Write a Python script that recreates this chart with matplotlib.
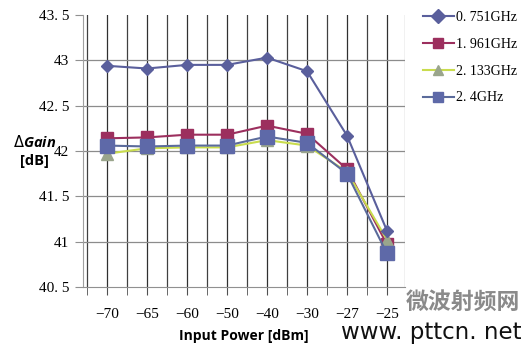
import matplotlib.pyplot as plt

# Input power steps (categorical axis) and gain per frequency
power_labels = ['-70', '-65', '-60', '-50', '-40', '-30', '-27', '-25']
gain_0751 = [42.94, 42.91, 42.95, 42.95, 43.03, 42.88, 42.17, 41.12]
gain_1961 = [42.14, 42.15, 42.18, 42.18, 42.28, 42.19, 41.80, 40.97]
gain_2133 = [41.97, 42.03, 42.04, 42.04, 42.12, 42.06, 41.77, 41.02]
gain_2400 = [42.06, 42.05, 42.06, 42.06, 42.16, 42.09, 41.75, 40.87]
series_names = ['0. 751GHz', '1. 961GHz', '2. 133GHz', '2. 4GHz']

serif = ['Liberation Serif', 'DejaVu Serif']

fig = plt.figure(figsize=(5.23, 3.46), dpi=100)
ax = fig.add_axes([0.1587, 0.1705, 0.6157, 0.7861])

x = list(range(len(power_labels)))

# gridlines: dark at categories and between them, light horizontals
for i in x:
    ax.axvline(i, color='#303030', lw=0.9, zorder=1)
for i in range(-1, len(power_labels) - 1):
    ax.axvline(i + 0.5, color='#404040', lw=0.9, zorder=1)
ax.axvline(7.45, color='#909090', lw=0.9, zorder=1)
for yv in [41, 41.5, 42, 42.5, 43]:
    ax.axhline(yv, color='#8c8c8c', lw=0.9, zorder=1)

ax.plot(x, gain_0751, color='#5a5f9c', lw=1.5, marker='D', ms=6.5,
        mfc='#5a5f9c', mec='#5a5f9c', label=series_names[0], zorder=5)
ax.plot(x, gain_1961, color='#9c2f5e', lw=1.5, marker='s', ms=9,
        mfc='#9c2f5e', mec='#9c2f5e', label=series_names[1], zorder=3)
ax.plot(x, gain_2133, color='#c9dc4e', lw=1.5, marker='^', ms=9,
        mfc='#9aa58c', mec='#9aa58c', label=series_names[2], zorder=3)
ax.plot(x, gain_2400, color='#5b6b9b', lw=1.5, marker='s', ms=10,
        mfc='#5e69a8', mec='#5e69a8', label=series_names[3], zorder=4)

ax.set_xlim(-0.6, 7.45)
ax.set_ylim(40.5, 43.5)
ax.set_yticks([40.5, 41, 41.5, 42, 42.5, 43, 43.5])
ax.set_yticklabels(['40. 5', '41', '41. 5', '42', '42. 5', '43', '43. 5'],
                   family=serif, fontsize=11)
ax.set_xticks(x)
ax.set_xticklabels(['\u2212' + l[1:] for l in power_labels], family=serif, fontsize=11)
ax.set_xticks([i + 0.5 for i in range(-1, 7)], minor=True)
ax.tick_params(axis='x', which='both', length=6, color='#505050', direction='out', pad=9)
ax.tick_params(axis='y', length=6, color='#909090', pad=4)

for side in ['top', 'right']:
    ax.spines[side].set_visible(False)
ax.spines['left'].set_color('#a0a0a0')
ax.spines['bottom'].set_color('#909090')

ax.set_xlabel('Input Power [dBm]', family='Open Sans', fontweight='bold',
              fontsize=10, labelpad=6)
fig.text(0.066, 0.59, r'$\Delta$' + 'Gain', family='Open Sans', fontweight='bold',
         style='italic', fontsize=10.5, ha='center', va='center')
fig.text(0.066, 0.535, '[dB]', family='Open Sans', fontweight='bold',
         fontsize=10.5, ha='center', va='center')

leg = fig.legend(loc='upper left', bbox_to_anchor=(0.785, 1.005), frameon=False,
                 prop={'family': serif, 'size': 10}, handlelength=2.2,
                 handletextpad=0.2, labelspacing=1.0)
for h in leg.legend_handles:
    h.set_markersize(7)

# site watermark
fig.text(0.775, 0.125, '微波射频网', family=['Noto Sans CJK SC', 'DejaVu Sans'],
         fontweight='bold', color='#8a8a8a', fontsize=16.5, ha='left', va='center')
fig.text(0.998, 0.038, 'www. pttcn. net', family='DejaVu Sans', color='#111111',
         fontsize=16.5, ha='right', va='center')

fig.savefig('out.png', dpi=100)
